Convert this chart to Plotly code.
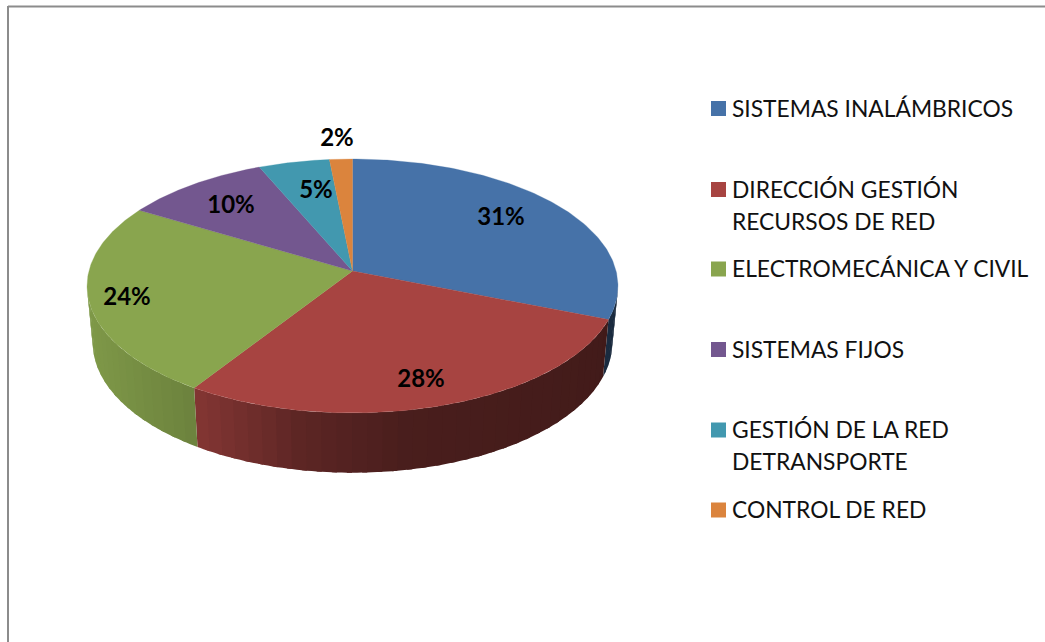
import numpy as np
import plotly.graph_objects as go

# ---- chart data -------------------------------------------------------
categories = ["SISTEMAS INALÁMBRICOS", "DIRECCIÓN GESTIÓN\nRECURSOS DE RED",
              "ELECTROMECÁNICA Y CIVIL", "SISTEMAS FIJOS",
              "GESTIÓN DE LA RED\nDETRANSPORTE", "CONTROL DE RED"]
values = [31.05, 28.05, 24.49, 10.0, 4.85, 1.56]

# ---- styles and layout -------------------------------------------------
colors = ["#4672A8", "#A74441", "#89A54E", "#73578F", "#4298AF", "#DB843D"]
label_x = [501, 421, 127, 231, 316, 337]
label_y = [219, 381, 299, 207, 192, 140]
legend_y = [108.5, 189.5, 269, 349.5, 430, 510]
FONT = "Lato"
W, H = 1045, 642
CX, K = 352.5, 0.118
TOP_Y0, TOP_A, TOP_B = 271.0, 125.2, 263.6
BOT_Y0, BOT_A, BOT_B = 327.0, 128.5, 258.0
SHADE_X = [90, 198, 300, 400, 600, 620]
SHADE_F = [0.92, 0.78, 0.55, 0.44, 0.40, 0.36]


def project(theta, r, y0, a, b):
    """Perspective view of the disc; theta runs clockwise from 12 o'clock."""
    u, v = r * np.sin(theta), r * np.cos(theta)
    w = 1 + K * v
    return CX + b * u / w, y0 - a * v / w


def top(theta, r=1.0):
    return project(theta, r, TOP_Y0, TOP_A, TOP_B)


def bottom(theta):
    return project(theta, 1.0, BOT_Y0, BOT_A, BOT_B)


def shade(hex_color, x):
    f = float(np.interp(x, SHADE_X, SHADE_F))
    rgb = [int(hex_color[i:i + 2], 16) for i in (1, 3, 5)]
    return "rgb({},{},{})".format(*[round(c * f) for c in rgb])


fig = go.Figure()
total = sum(values)
edges = np.concatenate([[0], np.cumsum(values)]) / total * 2 * np.pi

# Visible rim of the pie, between the two silhouette angles
vis_a, vis_b = np.pi - np.arcsin(np.sqrt(1 - K ** 2)), np.pi + np.arcsin(np.sqrt(1 - K ** 2))
for i, col in enumerate(colors):
    a, b = max(edges[i], vis_a), min(edges[i + 1], vis_b)
    if a >= b:
        continue
    n = max(1, int(np.ceil((b - a) / np.radians(3.0))))
    steps = np.linspace(a, b, n + 1)
    for s, e in zip(steps[:-1], steps[1:]):
        # each strip overlaps the next one so no seam shows through
        t = np.linspace(s, min(e + np.radians(1.0), b), 5)
        xt, yt = top(t)
        xb, yb = bottom(t[::-1])
        c = shade(col, float(xt.mean()))
        fig.add_trace(go.Scatter(
            x=np.concatenate([xt, xb]), y=np.concatenate([yt, yb]),
            mode="none", fill="toself", fillcolor=c,
            hoverinfo="skip", showlegend=False))

# Top face
for i, col in enumerate(colors):
    t = np.linspace(edges[i], edges[i + 1], 120)
    xs, ys = top(t)
    ax, ay = top(np.array([0.0]), 0.0)
    fig.add_trace(go.Scatter(
        x=np.concatenate([ax, xs, ax]), y=np.concatenate([ay, ys, ay]),
        mode="lines", fill="toself", fillcolor=col,
        line=dict(color=col, width=0.3), name=categories[i].replace("\n", " "),
        hoverinfo="name", showlegend=False))

# Percent labels
fig.add_trace(go.Scatter(
    x=label_x, y=label_y, mode="text",
    text=[f"{round(v / total * 100)}%" for v in values],
    textposition="middle center",
    textfont=dict(family=FONT, size=24, color="#000000", weight="bold"),
    hoverinfo="skip", showlegend=False))

# Legend
fig.add_trace(go.Scatter(
    x=[718.5] * len(colors), y=legend_y, mode="markers",
    marker=dict(symbol="square", size=15, color=colors, line=dict(width=0)),
    hoverinfo="skip", showlegend=False))
for name, y in zip(categories, legend_y):
    for j, line in enumerate(name.split("\n")):
        fig.add_annotation(x=732, y=y + j * 32, text=line, showarrow=False,
                           xanchor="left", yanchor="middle", xshift=-2, yshift=1,
                           font=dict(family=FONT, size=22.8, color="#111111"))

# Frame
fig.add_shape(type="line", x0=8, x1=W, y0=6.5, y1=6.5, line=dict(color="#8C8C8C", width=2))
fig.add_shape(type="line", x0=8, x1=8, y0=6, y1=H, line=dict(color="#8C8C8C", width=2))

fig.update_layout(
    width=W, height=H, autosize=False,
    margin=dict(l=0, r=0, t=0, b=0),
    paper_bgcolor="white", plot_bgcolor="white", showlegend=False,
    xaxis=dict(range=[0, W], visible=False, fixedrange=True),
    yaxis=dict(range=[H, 0], visible=False, fixedrange=True),
)
fig.write_html("out.html", config=dict(displayModeBar=False),
               default_width=W, default_height=H,
               post_script="document.body.style.margin='0';document.body.style.overflow='hidden';")
